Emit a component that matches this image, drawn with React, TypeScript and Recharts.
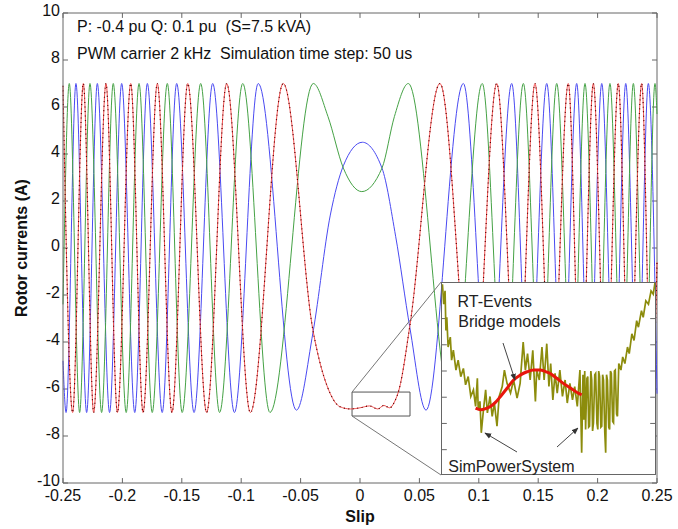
import React from 'react';
import { LineChart, Line, XAxis, YAxis, ReferenceLine, ReferenceArea } from 'recharts';

type Pt = [number, number];

const FONT = '"Liberation Sans", Arial, sans-serif';

const xTicks = [-0.25, -0.2, -0.15, -0.1, -0.05, 0, 0.05, 0.1, 0.15, 0.2, 0.25];
const yTicks = [-10, -8, -6, -4, -2, 0, 2, 4, 6, 8, 10];

// rotor phase currents (slip, A), read at peaks / troughs / crossings
const phaseBlue: Pt[] = [
  [-0.25, -4.8], [-0.2474, -7], [-0.2391, 7], [-0.2301, -7], [-0.2211, 7], [-0.2108, -7],
  [-0.2006, 7], [-0.1896, -7], [-0.179, 7], [-0.1665, -7], [-0.1543, 7], [-0.1397, -7],
  [-0.124, 7], [-0.1057, -7], [-0.0857, 7], [-0.0535, -6.9], [-0.0396, -3.6], [-0.025, 1.4],
  [-0.014, 3.5], [0.002, 4.5], [0.0185, 3.4], [0.03, 0.5], [0.042, -3.4], [0.0556, -6.9],
  [0.087, 7], [0.1092, -7], [0.1277, 7], [0.1425, -7], [0.1572, 7], [0.1706, -7],
  [0.1824, 7], [0.1929, -7], [0.2035, 7], [0.214, -7], [0.2237, 7], [0.2336, -7],
  [0.2427, 7], [0.25, -6.2],
];

const phaseGreen: Pt[] = [
  [-0.25, -2.4], [-0.2447, 7], [-0.236, -7], [-0.2273, 7], [-0.2175, -7], [-0.2077, 7],
  [-0.1968, -7], [-0.186, 7], [-0.1749, -7], [-0.1622, 7], [-0.1497, -7], [-0.1341, 7],
  [-0.1182, -7], [-0.0987, 7], [-0.0758, -7], [-0.0393, 7], [-0.027, 5.6], [-0.014, 3.4],
  [0.0015, 2.4], [0.0185, 3.4], [0.029, 5.6], [0.0407, 7], [0.0778, -7], [0.1029, 7],
  [0.1216, -7], [0.1375, 7], [0.1523, -7], [0.1656, 7], [0.1789, -7], [0.1894, 7],
  [0.2, -7], [0.2104, 7], [0.2206, -7], [0.2301, 7], [0.2399, -7], [0.2483, 7], [0.25, 5.7],
];

const phaseRed: Pt[] = [
  [-0.25, 6.9], [-0.2419, -7], [-0.2329, 7], [-0.2242, -7], [-0.2138, 7], [-0.2042, -7],
  [-0.193, 7], [-0.1826, -7], [-0.1706, 7], [-0.1583, -7], [-0.145, 7], [-0.1291, -7],
  [-0.1122, 7], [-0.0923, -7], [-0.0646, 7], [-0.0396, -3.5], [-0.025, -6.2], [-0.017, -6.75],
  [-0.008, -6.85], [0, -6.8], [0.008, -6.72], [0.015, -6.85], [0.02, -6.7], [0.025, -6.8],
  [0.029, -6.55], [0.033, -6.0], [0.042, -3.3], [0.0673, 7], [0.0953, -7], [0.1151, 7],
  [0.1327, -7], [0.1473, 7], [0.1614, -7], [0.1753, 7], [0.186, -7], [0.1964, 7],
  [0.207, -7], [0.2174, 7], [0.2269, -7], [0.2371, 7], [0.2455, -7], [0.25, -0.6],
];

// zoomed window
const zoomSlip: [number, number] = [-0.0067, 0.0421];
const zoomAmp: [number, number] = [-7.15, -6.13];

const simPowerSystem: Pt[] = [
  [-0.0066, -6.137], [-0.0063, -6.243], [-0.006, -6.172], [-0.0058, -6.384], [-0.0056, -6.313],
  [-0.0053, -6.472], [-0.0048, -6.419], [-0.0045, -6.542], [-0.0041, -6.489], [-0.0035, -6.595],
  [-0.003, -6.542], [-0.0024, -6.63], [-0.0018, -6.586], [-0.0013, -6.674], [-0.0007, -6.63],
  [-0.0001, -6.736], [0.0005, -6.701], [0.001, -6.789], [0.0014, -6.639], [0.0016, -6.807],
  [0.002, -6.762], [0.0023, -6.93], [0.0028, -6.807], [0.0033, -6.701], [0.0037, -6.824],
  [0.0043, -6.736], [0.0048, -6.842], [0.0053, -6.771], [0.0059, -6.895], [0.0064, -6.736],
  [0.0071, -6.683], [0.0076, -6.595], [0.0082, -6.666], [0.009, -6.718], [0.0097, -6.648],
  [0.0105, -6.745], [0.0112, -6.666], [0.0119, -6.445], [0.0124, -6.595], [0.0129, -6.507],
  [0.0135, -6.648], [0.0141, -6.489], [0.0147, -6.762], [0.015, -6.595], [0.0156, -6.648],
  [0.0162, -6.472], [0.0167, -6.648], [0.0173, -6.454], [0.0178, -6.683], [0.0182, -6.56],
  [0.0187, -6.754], [0.0192, -6.613], [0.0197, -6.718], [0.0203, -6.595], [0.0209, -6.736],
  [0.0215, -6.648], [0.022, -6.771], [0.0226, -6.666], [0.0232, -6.754], [0.0237, -6.683],
  [0.0243, -6.789], [0.0249, -6.595], [0.0253, -7.036], [0.0256, -6.62], [0.0258, -6.86],
  [0.026, -6.6], [0.0262, -6.912], [0.0265, -6.64], [0.0267, -6.63], [0.0269, -6.9],
  [0.0271, -6.895], [0.0274, -6.6], [0.0276, -6.648], [0.0278, -6.92], [0.028, -6.877],
  [0.0283, -6.62], [0.0285, -6.613], [0.0288, -6.88], [0.029, -6.912], [0.0292, -6.6],
  [0.0294, -6.63], [0.0297, -6.9], [0.0299, -6.895], [0.0301, -6.62], [0.0303, -6.648],
  [0.0306, -6.93], [0.0308, -7.036], [0.031, -6.62], [0.0312, -6.648], [0.0315, -6.9],
  [0.0317, -6.912], [0.0319, -6.6], [0.0321, -6.613], [0.0324, -6.87], [0.0326, -6.877],
  [0.0328, -6.6], [0.033, -6.595], [0.0333, -6.83], [0.0335, -6.842], [0.0338, -6.56],
  [0.0343, -6.595], [0.0347, -6.525], [0.0352, -6.56],
  [0.0358, -6.472], [0.0362, -6.507], [0.0368, -6.401], [0.0373, -6.437], [0.0379, -6.331],
  [0.0383, -6.366], [0.039, -6.278], [0.0394, -6.313], [0.04, -6.225], [0.0406, -6.243],
  [0.0412, -6.172], [0.0417, -6.19], [0.0421, -6.128],
];

const rtEvents: Pt[] = [
  [0.001, -6.798], [0.0022, -6.807], [0.0033, -6.801], [0.0044, -6.789], [0.0056, -6.766],
  [0.0067, -6.736], [0.0082, -6.692], [0.0097, -6.648], [0.0112, -6.622], [0.0128, -6.604],
  [0.0143, -6.595], [0.0158, -6.595], [0.0169, -6.602], [0.0181, -6.613], [0.0196, -6.639],
  [0.0211, -6.666], [0.0222, -6.683], [0.0234, -6.701], [0.0245, -6.718], [0.0253, -6.727],
];

const insetYTicks = [-6.32, -6.46, -6.6, -6.74, -6.88, -7.02];

const rows = (pts: Pt[]) => pts.map(([s, i]) => ({ s, i }));

const tickStyle = { fontSize: 16, fill: '#111', fontFamily: FONT };
const frame = '#666';

const YTick = (props: any) => {
  const { x, y, payload } = props;
  return (
    <text x={x} y={y} dy={3} textAnchor="end" fontSize={16} fill="#111" fontFamily={FONT}>
      {payload.value}
    </text>
  );
};

export default function App() {
  const xTick = 0.0042;
  const yTick = 0.21;
  const insetXTick = 0.0011;
  return (
    <div style={{ position: 'absolute', left: 0, top: 0, width: 678, height: 529, background: '#fff', fontFamily: FONT }}>
      <LineChart width={678} height={529} margin={{ top: 13, right: 21, left: 0, bottom: 0 }}>
        <XAxis
          type="number"
          dataKey="s"
          domain={[-0.25, 0.25]}
          ticks={xTicks}
          interval={0}
          height={46}
          tickLine={false}
          tickSize={0}
          tickMargin={7}
          axisLine={{ stroke: frame }}
          tick={tickStyle}
        />
        <YAxis
          type="number"
          domain={[-10, 10]}
          ticks={yTicks}
          interval={0}
          width={63}
          tickLine={false}
          tickSize={0}
          tickMargin={3}
          axisLine={{ stroke: frame }}
          tick={<YTick />}
        />
        <ReferenceLine y={10} stroke={frame} />
        <ReferenceLine x={0.25} stroke={frame} />
        {xTicks.map((t) => (
          <ReferenceLine key={'b' + t} segment={[{ x: t, y: -10 }, { x: t, y: -10 + yTick }]} stroke={frame} />
        ))}
        {xTicks.map((t) => (
          <ReferenceLine key={'t' + t} segment={[{ x: t, y: 10 }, { x: t, y: 10 - yTick }]} stroke={frame} />
        ))}
        {yTicks.map((t) => (
          <ReferenceLine key={'l' + t} segment={[{ x: -0.25, y: t }, { x: -0.25 + xTick, y: t }]} stroke={frame} />
        ))}
        {yTicks.map((t) => (
          <ReferenceLine key={'r' + t} segment={[{ x: 0.25, y: t }, { x: 0.25 - xTick, y: t }]} stroke={frame} />
        ))}
        <Line data={rows(phaseBlue)} dataKey="i" type="monotone" stroke="#4a4af2" strokeWidth={1} dot={false} isAnimationActive={false} />
        <Line data={rows(phaseGreen)} dataKey="i" type="monotone" stroke="#45a245" strokeWidth={1} dot={false} isAnimationActive={false} />
        <Line data={rows(phaseRed)} dataKey="i" type="monotone" stroke="#f25252" strokeWidth={1} dot={false} isAnimationActive={false} />
        <Line data={rows(phaseRed)} dataKey="i" type="monotone" stroke="#5a0000" strokeWidth={1.2} strokeDasharray="1 3.5" dot={false} isAnimationActive={false} />
        <ReferenceArea x1={zoomSlip[0]} x2={zoomSlip[1]} y1={zoomAmp[0]} y2={zoomAmp[1]} fill="none" stroke="#555" strokeWidth={1} />
        <ReferenceLine segment={[{ x: zoomSlip[0], y: zoomAmp[1] }, { x: 0.0682, y: -1.45 }]} stroke="#777" />
        <ReferenceLine segment={[{ x: zoomSlip[0], y: zoomAmp[0] }, { x: 0.0682, y: -9.66 }]} stroke="#777" />
      </LineChart>

      <svg width={678} height={529} style={{ position: 'absolute', left: 0, top: 0, pointerEvents: 'none' }}>
        <text x={77} y={31.5} fontSize={16} fill="#111" style={{ whiteSpace: 'pre' }}>P: -0.4 pu Q: 0.1 pu  (S=7.5 kVA)</text>
        <text x={77} y={59} fontSize={16} fill="#111" style={{ whiteSpace: 'pre' }}>PWM carrier 2 kHz  Simulation time step: 50 us</text>
        <text x={360} y={522} fontSize={16} fontWeight="bold" fill="#111" textAnchor="middle">Slip</text>
        <text x={0} y={0} fontSize={16} fontWeight="bold" fill="#111" textAnchor="middle" transform="translate(27 248) rotate(-90)">Rotor currents (A)</text>
      </svg>

      <div style={{ position: 'absolute', left: 441, top: 282, width: 215, height: 193, background: '#fff', border: '1px solid #666', boxSizing: 'border-box' }}>
        <LineChart width={213} height={191} margin={{ top: 0, right: 0, left: 0, bottom: 0 }}>
          <XAxis type="number" dataKey="s" domain={zoomSlip} hide allowDataOverflow />
          <YAxis type="number" domain={zoomAmp} hide allowDataOverflow />
          {insetYTicks.map((t) => (
            <ReferenceLine key={'il' + t} segment={[{ x: zoomSlip[0], y: t }, { x: zoomSlip[0] + insetXTick, y: t }]} stroke={frame} />
          ))}
          {insetYTicks.map((t) => (
            <ReferenceLine key={'ir' + t} segment={[{ x: zoomSlip[1], y: t }, { x: zoomSlip[1] - insetXTick, y: t }]} stroke={frame} />
          ))}
          <Line data={rows(simPowerSystem)} dataKey="i" type="linear" stroke="#8c8c0c" strokeWidth={1.7} dot={false} isAnimationActive={false} />
          <Line data={rows(rtEvents)} dataKey="i" type="monotone" stroke="#e8160c" strokeWidth={3} dot={false} isAnimationActive={false} />
        </LineChart>
        <svg width={215} height={193} style={{ position: 'absolute', left: -1, top: -1, pointerEvents: 'none' }}>
          <defs>
            <marker id="ah" viewBox="0 0 10 10" refX="9" refY="5" markerWidth="7" markerHeight="7" orient="auto">
              <path d="M0,1 L10,5 L0,9 z" fill="#333" />
            </marker>
          </defs>
          <text x={16.5} y={25.3} fontSize={16} fill="#222">RT-Events</text>
          <text x={17.3} y={45.3} fontSize={16} fill="#222">Bridge models</text>
          <text x={7.3} y={189.5} fontSize={16} fill="#222">SimPowerSystem</text>
          <line x1={62} y1={61} x2={74} y2={98} stroke="#444" strokeWidth={1} markerEnd="url(#ah)" />
          <line x1={76} y1={170} x2={44} y2={151} stroke="#444" strokeWidth={1} markerEnd="url(#ah)" />
          <line x1={116} y1={165} x2={137} y2={146} stroke="#444" strokeWidth={1} markerEnd="url(#ah)" />
        </svg>
      </div>
    </div>
  );
}
